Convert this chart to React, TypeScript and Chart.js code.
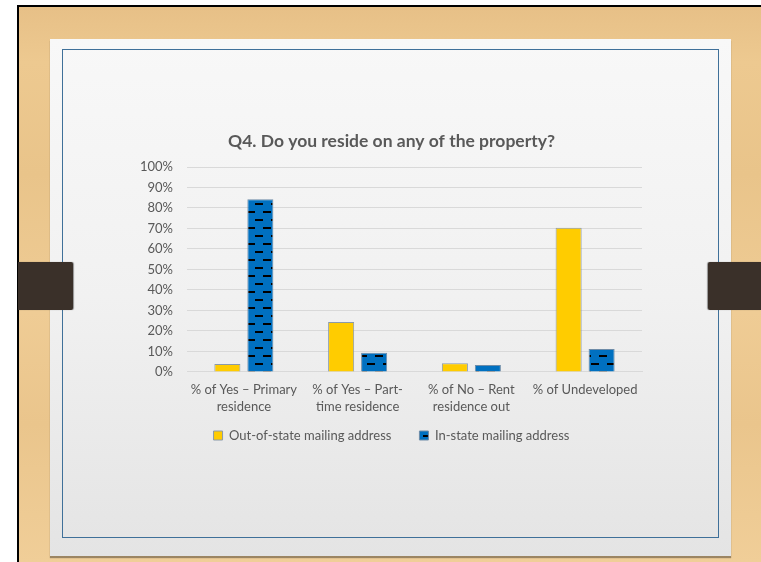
import React, { useEffect, useRef } from "react";
import { Chart, registerables } from "chart.js";

Chart.register(...registerables);

const categories: (string | string[])[] = [
  ["% of Yes – Primary", "residence"],
  ["% of Yes – Part-", "time residence"],
  ["% of No – Rent", "residence out"],
  "% of Undeveloped",
];
const outOfState = [3.8, 24.4, 4.2, 70.3];
const inState = [84.2, 9.4, 3.4, 11.2];
const seriesNames = ["Out-of-state mailing address", "In-state mailing address"];
const titleText = "Q4. Do you reside on any of the property?";

const FONT = "Lato, 'Open Sans', sans-serif";

function makePattern(): CanvasPattern | string {
  const c = document.createElement("canvas");
  c.width = 16;
  c.height = 16;
  const ctx = c.getContext("2d");
  if (!ctx) return "#0070C0";
  ctx.fillStyle = "#0070C0";
  ctx.fillRect(0, 0, 16, 16);
  ctx.fillStyle = "#000000";
  ctx.fillRect(1, 3, 8, 2);
  ctx.fillRect(9, 11, 8, 2);
  ctx.fillRect(0, 11, 1, 2);
  const p = ctx.createPattern(c, "repeat");
  return p || "#0070C0";
}

const legendShift = {
  id: "legendShift",
  afterLayout(chart: any) {
    const lg = chart.legend;
    if (lg) {
      lg.top -= 24;
      lg.bottom -= 24;
    }
  },
};

export default function App() {
  const ref = useRef<HTMLCanvasElement | null>(null);

  useEffect(() => {
    if (!ref.current) return;
    const pattern = makePattern();
    const chart = new Chart(ref.current, {
      type: "bar",
      data: {
        labels: categories,
        datasets: [
          {
            label: seriesNames[0],
            data: outOfState,
            backgroundColor: "#FFCC00",
            borderColor: "#8A9AAA",
            borderWidth: 1,
            categoryPercentage: 0.58,
            barPercentage: 0.79,
          },
          {
            label: seriesNames[1],
            data: inState,
            backgroundColor: pattern as any,
            borderColor: "#6E8CA8",
            borderWidth: 1,
            categoryPercentage: 0.58,
            barPercentage: 0.79,
          },
        ],
      },
      plugins: [legendShift],
      options: {
        animation: false,
        responsive: false,
        maintainAspectRatio: false,
        layout: { padding: { left: 31, right: 28, top: 0, bottom: 0 } },
        plugins: {
          title: {
            display: true,
            text: titleText,
            color: "#595959",
            font: { family: FONT, size: 17.5, weight: "bold" },
            padding: { top: 11, bottom: 15 },
          },
          legend: {
            position: "bottom",
            labels: {
              color: "#595959",
              font: { family: FONT, size: 13 },
              boxWidth: 9,
              boxHeight: 9,
              padding: 28,
            },
          },
          tooltip: { enabled: false },
        },
        scales: {
          x: {
            grid: { display: false, drawTicks: false },
            border: { display: true, color: "#D9D9D9" },
            ticks: {
              color: "#595959",
              font: { family: FONT, size: 13, lineHeight: 1.35 },
              padding: 9,
              maxRotation: 0,
              autoSkip: false,
            },
          },
          y: {
            min: 0,
            max: 100,
            afterFit: (s: any) => {
              s.width = 46;
            },
            ticks: {
              stepSize: 10,
              color: "#595959",
              font: { family: FONT, size: 13 },
              padding: 14,
              callback: (v: any) => v + "%",
            },
            grid: { color: "#D9D9D9", drawTicks: false },
            border: { display: false },
          },
        },
      },
    });
    return () => chart.destroy();
  }, []);

  return (
    <div
      style={{
        position: "absolute",
        left: 0,
        top: 0,
        width: 761,
        height: 562,
        overflow: "hidden",
        background: "#FFFFFF",
      }}
    >
      <div
        style={{
          position: "absolute",
          left: 17,
          top: 5,
          width: 761 - 17,
          height: 562 - 5,
          background: "#000",
        }}
      />
      <div
        style={{
          position: "absolute",
          left: 19,
          top: 7,
          width: 761 - 19,
          height: 562 - 7,
          background:
            "linear-gradient(180deg, #E7C087 0%, #EDC990 10%, #E9C48A 30%, #EFCC95 55%, #EAC58C 75%, #F0CE98 100%)",
        }}
      />
      <div
        style={{
          position: "absolute",
          left: 50,
          top: 39,
          width: 681,
          height: 517,
          background: "linear-gradient(180deg, #F8F8F8 0%, #F1F1F1 50%, #E4E4E4 100%)",
          boxShadow: "0 2px 1px rgba(0,0,0,0.35)",
        }}
      />
      <div
        style={{
          position: "absolute",
          left: 62,
          top: 49,
          width: 657,
          height: 489,
          border: "1.5px solid #3F7099",
          boxSizing: "border-box",
        }}
      />
      <div
        style={{
          position: "absolute",
          left: 18,
          top: 262,
          width: 55,
          height: 48,
          background: "#3A3029",
          borderRadius: "0 2px 2px 0",
          boxShadow: "1px 0 1px rgba(0,0,0,0.4)",
        }}
      />
      <div
        style={{
          position: "absolute",
          left: 708,
          top: 262,
          width: 53,
          height: 48,
          background: "#3A3029",
          borderRadius: "2px 0 0 2px",
          boxShadow: "-1px 0 1px rgba(0,0,0,0.4)",
        }}
      />
      <canvas
        ref={ref}
        width={560}
        height={356}
        style={{ position: "absolute", left: 110, top: 120, width: 560, height: 356 }}
      />
    </div>
  );
}
